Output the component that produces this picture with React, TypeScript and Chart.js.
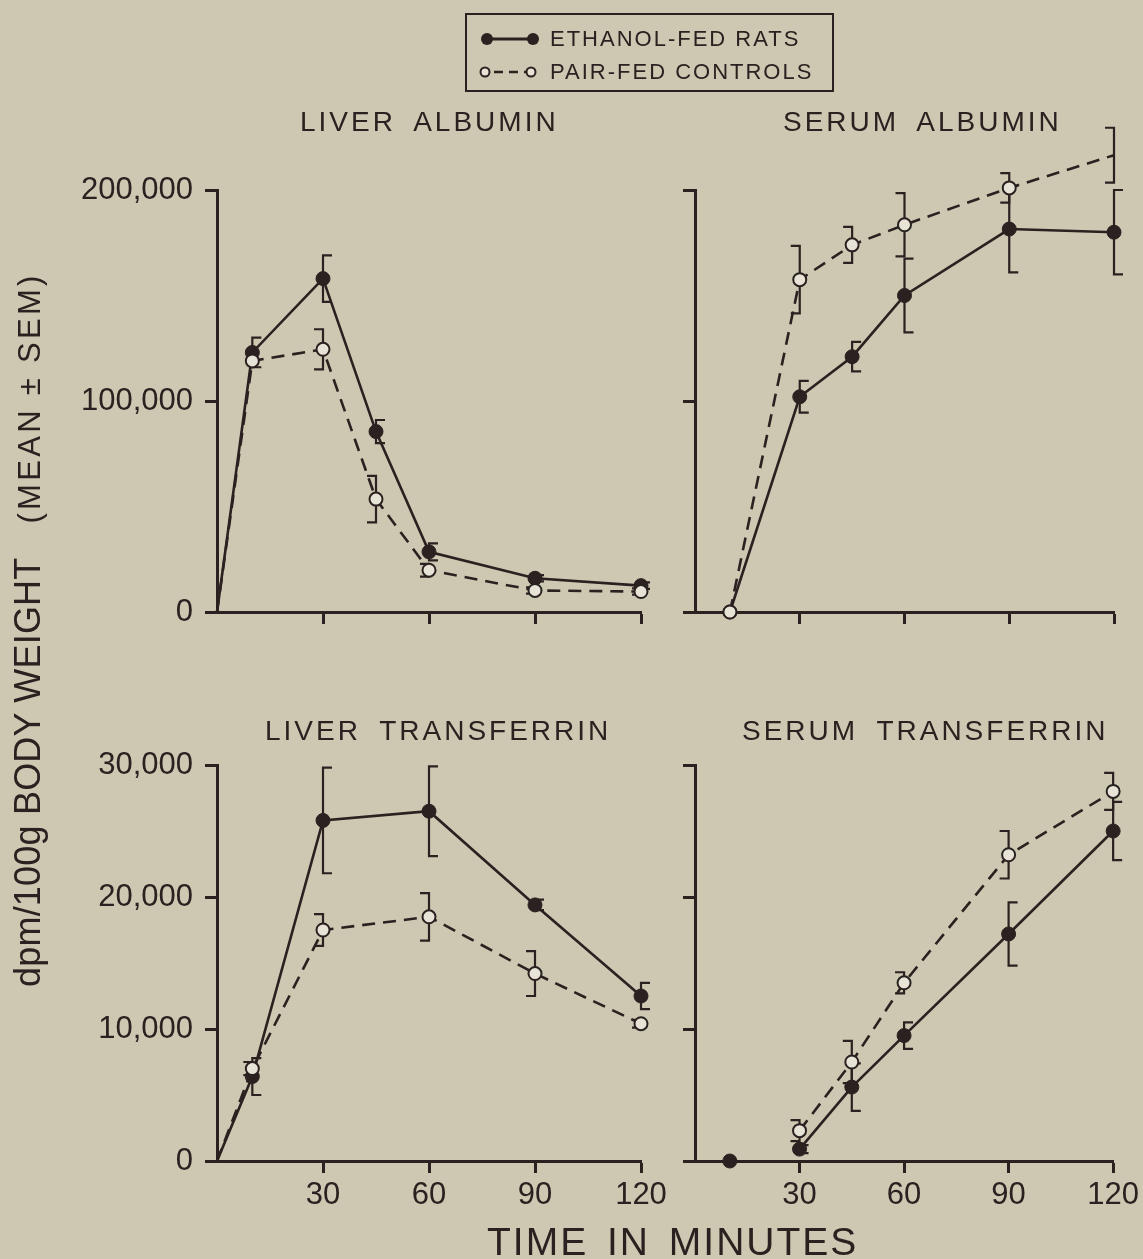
import React, { useEffect, useRef } from 'react';
import { Chart, registerables } from 'chart.js';

Chart.register(...registerables);

// ---------- data (dpm / 100 g body weight, mean and SEM) ----------
const liverAlbuminTimes = [0, 10, 30, 45, 60, 90, 120];
const liverAlbuminEthanol = [0, 123000, 158000, 85500, 28500, 16000, 12500];
const liverAlbuminEthanolSem = [0, 7000, 11000, 5500, 4000, 1500, 1500];
const liverAlbuminPairFed = [0, 119000, 124500, 53500, 19800, 10200, 9700];
const liverAlbuminPairFedSem = [0, 0, 9500, 11000, 3000, 1500, 1500];

const serumAlbuminTimes = [10, 30, 45, 60, 90, 120];
const serumAlbuminEthanol = [0, 102000, 121000, 150000, 181500, 180000];
const serumAlbuminEthanolSem = [0, 7500, 7000, 17500, 20500, 20000];
const serumAlbuminPairFed = [0, 157500, 174000, 183500, 201000, 216500];
const serumAlbuminPairFedSem = [0, 16000, 8500, 15000, 7000, 13000];

const liverTransferrinTimes = [0, 10, 30, 60, 90, 120];
const liverTransferrinEthanol = [0, 6400, 25800, 26500, 19400, 12500];
const liverTransferrinEthanolSem = [0, 1400, 4000, 3400, 400, 1000];
const liverTransferrinPairFed = [0, 7000, 17500, 18500, 14200, 10400];
const liverTransferrinPairFedSem = [0, 500, 1200, 1800, 1700, 300];

const serumTransferrinEthanolTimes = [10, 30, 45, 60, 90, 120];
const serumTransferrinEthanol = [0, 900, 5600, 9500, 17200, 25000];
const serumTransferrinEthanolSem = [0, 300, 1800, 1000, 2400, 2200];
const serumTransferrinPairFedTimes = [30, 45, 60, 90, 120];
const serumTransferrinPairFed = [2300, 7500, 13500, 23200, 28000];
const serumTransferrinPairFedSem = [800, 1600, 800, 1800, 1400];

const xTicks = [30, 60, 90, 120];
const albuminYTicks = [0, 100000, 200000];
const transferrinYTicks = [0, 10000, 20000, 30000];

const legendLabels = ['ETHANOL-FED RATS', 'PAIR-FED CONTROLS'];
const panelTitles = ['LIVER ALBUMIN', 'SERUM ALBUMIN', 'LIVER TRANSFERRIN', 'SERUM TRANSFERRIN'];
const yAxisTitleMain = 'dpm/100g BODY WEIGHT';
const yAxisTitleSub = '(MEAN \u00b1 SEM)';
const xAxisTitle = 'TIME IN MINUTES';

// ---------- styles ----------
const INK = '#2a2120';
const PAPER = '#cdc8b1';
const OPEN_FILL = '#e7e4d7';
const FONT = "'Liberation Sans', Arial, sans-serif";

const semBracketPlugin = {
  id: 'semBrackets',
  beforeDatasetsDraw(chart: any) {
    const ctx = chart.ctx;
    const yScale = chart.scales.y;
    chart.data.datasets.forEach((ds: any, i: number) => {
      const meta = chart.getDatasetMeta(i);
      const sem: number[] = ds.sem || [];
      ctx.save();
      ctx.strokeStyle = INK;
      ctx.lineWidth = 2.2;
      ctx.setLineDash([]);
      meta.data.forEach((el: any, j: number) => {
        const s = sem[j];
        if (!s) return;
        const v = ds.data[j].y;
        const x = el.x;
        const yHi = yScale.getPixelForValue(v + s);
        const yLo = yScale.getPixelForValue(Math.max(v - s, 0));
        const side = ds.bracketSide;
        ctx.beginPath();
        ctx.moveTo(x + side * 9, yHi);
        ctx.lineTo(x, yHi);
        ctx.lineTo(x, yLo);
        ctx.lineTo(x + side * 9, yLo);
        ctx.stroke();
      });
      ctx.restore();
    });
  },
};

type SeriesSpec = { times: number[]; values: number[]; sem: number[]; detachFirst?: boolean };
type PanelSpec = {
  box: { x: number; y: number; w: number; h: number };
  area: { l: number; t: number; r: number; b: number };
  ethanol: SeriesSpec;
  pairFed: SeriesSpec;
  yTicks: number[];
  showXLabels: boolean;
  showYLabels: boolean;
};

function makeDataset(s: SeriesSpec, filled: boolean, label: string) {
  return {
    label,
    data: s.times.map((t, i) => ({ x: t, y: s.values[i] })),
    sem: s.sem,
    bracketSide: filled ? 1 : -1,
    borderColor: INK,
    backgroundColor: filled ? INK : OPEN_FILL,
    borderWidth: 2.6,
    borderDash: filled ? [] : [13, 8],
    pointRadius: (c: any) => (c.raw && c.raw.x === 0 ? 0 : filled ? 7 : 6.5),
    pointBackgroundColor: filled ? INK : OPEN_FILL,
    pointBorderColor: INK,
    pointBorderWidth: filled ? 1 : 2,
    tension: 0,
    clip: false,
    segment: s.detachFirst
      ? { borderColor: (c: any) => (c.p0DataIndex === 0 ? 'rgba(0,0,0,0)' : undefined) }
      : undefined,
  };
}

function Panel({ spec }: { spec: PanelSpec }) {
  const ref = useRef<HTMLCanvasElement | null>(null);
  useEffect(() => {
    const { box, area } = spec;
    const yWidth = area.l - box.x;
    const xHeight = box.y + box.h - area.b;
    const grid = {
      display: true,
      drawOnChartArea: false,
      drawTicks: true,
      tickLength: 12,
      tickWidth: 3,
      tickColor: INK,
      color: INK,
    };
    const border = { display: true, color: INK, width: 3 };
    const tickFont = { family: FONT, size: 31 };
    const yMax = spec.yTicks[spec.yTicks.length - 1];
    const chart = new Chart(ref.current as HTMLCanvasElement, {
      type: 'line',
      data: {
        datasets: [
          makeDataset(spec.pairFed, false, legendLabels[1]),
          makeDataset(spec.ethanol, true, legendLabels[0]),
        ] as any,
      },
      options: {
        animation: false,
        responsive: false,
        events: [],
        layout: {
          padding: { left: 0, top: area.t - box.y, right: box.x + box.w - area.r, bottom: 0 },
        },
        plugins: { legend: { display: false }, tooltip: { enabled: false }, title: { display: false } },
        scales: {
          x: {
            type: 'linear',
            min: 0,
            max: 120,
            afterBuildTicks: (s: any) => {
              s.ticks = xTicks.map((v) => ({ value: v }));
            },
            afterFit: (s: any) => {
              s.height = xHeight;
            },
            ticks: {
              display: spec.showXLabels,
              color: INK,
              font: tickFont,
              padding: 4,
              maxRotation: 0,
              autoSkip: false,
            },
            grid,
            border,
          },
          y: {
            type: 'linear',
            min: 0,
            max: yMax,
            afterBuildTicks: (s: any) => {
              s.ticks = spec.yTicks.map((v) => ({ value: v }));
            },
            afterFit: (s: any) => {
              s.width = yWidth;
            },
            ticks: {
              display: spec.showYLabels,
              color: INK,
              font: tickFont,
              padding: 12,
              callback: (v: any) => Number(v).toLocaleString('en-US'),
            },
            grid,
            border,
          },
        },
      } as any,
      plugins: [semBracketPlugin],
    });
    return () => chart.destroy();
  }, [spec]);
  const { box } = spec;
  return (
    <canvas
      ref={ref}
      width={box.w}
      height={box.h}
      style={{ position: 'absolute', left: box.x, top: box.y, width: box.w, height: box.h }}
    />
  );
}

const panels: PanelSpec[] = [
  {
    box: { x: 0, y: 0, w: 672, h: 660 },
    area: { l: 217, t: 190, r: 641, b: 612 },
    ethanol: { times: liverAlbuminTimes, values: liverAlbuminEthanol, sem: liverAlbuminEthanolSem },
    pairFed: { times: liverAlbuminTimes, values: liverAlbuminPairFed, sem: liverAlbuminPairFedSem },
    yTicks: albuminYTicks,
    showXLabels: false,
    showYLabels: true,
  },
  {
    box: { x: 655, y: 0, w: 488, h: 660 },
    area: { l: 695, t: 190, r: 1114, b: 612 },
    ethanol: { times: serumAlbuminTimes, values: serumAlbuminEthanol, sem: serumAlbuminEthanolSem },
    pairFed: { times: serumAlbuminTimes, values: serumAlbuminPairFed, sem: serumAlbuminPairFedSem },
    yTicks: albuminYTicks,
    showXLabels: false,
    showYLabels: false,
  },
  {
    box: { x: 0, y: 660, w: 672, h: 599 },
    area: { l: 217, t: 765, r: 641, b: 1161 },
    ethanol: { times: liverTransferrinTimes, values: liverTransferrinEthanol, sem: liverTransferrinEthanolSem },
    pairFed: { times: liverTransferrinTimes, values: liverTransferrinPairFed, sem: liverTransferrinPairFedSem },
    yTicks: transferrinYTicks,
    showXLabels: true,
    showYLabels: true,
  },
  {
    box: { x: 655, y: 660, w: 488, h: 599 },
    area: { l: 695, t: 765, r: 1114, b: 1161 },
    ethanol: {
      times: serumTransferrinEthanolTimes,
      values: serumTransferrinEthanol,
      sem: serumTransferrinEthanolSem,
      detachFirst: true,
    },
    pairFed: { times: serumTransferrinPairFedTimes, values: serumTransferrinPairFed, sem: serumTransferrinPairFedSem },
    yTicks: transferrinYTicks,
    showXLabels: true,
    showYLabels: false,
  },
];

const titlePos = [
  { x: 300, baseline: 132 },
  { x: 783, baseline: 132 },
  { x: 265, baseline: 741 },
  { x: 742, baseline: 741 },
];

function Text({
  x,
  baseline,
  size,
  spacing,
  wordSpacing,
  children,
}: {
  x: number;
  baseline: number;
  size: number;
  spacing: number;
  wordSpacing?: number;
  children: React.ReactNode;
}) {
  return (
    <div
      style={{
        position: 'absolute',
        left: x,
        top: baseline - size * 0.8465,
        fontSize: size,
        lineHeight: `${size}px`,
        letterSpacing: spacing,
        wordSpacing: wordSpacing || 0,
        whiteSpace: 'nowrap',
      }}
    >
      {children}
    </div>
  );
}

function Legend() {
  return (
    <>
      <svg
        width={1143}
        height={100}
        style={{ position: 'absolute', left: 0, top: 0 }}
      >
        <rect x={466} y={14} width={367} height={77} fill="none" stroke={INK} strokeWidth={2} />
        <line x1={487} y1={39} x2={533} y2={39} stroke={INK} strokeWidth={3} />
        <circle cx={487} cy={39} r={6} fill={INK} />
        <circle cx={533} cy={39} r={6} fill={INK} />
        <line x1={490} y1={72} x2={527} y2={72} stroke={INK} strokeWidth={2.5} strokeDasharray="9 6" strokeDashoffset={-4} />
        <circle cx={485} cy={72} r={4.5} fill={OPEN_FILL} stroke={INK} strokeWidth={2} />
        <circle cx={531} cy={72} r={4.5} fill={OPEN_FILL} stroke={INK} strokeWidth={2} />
      </svg>
      <Text x={550} baseline={47} size={22} spacing={2}>
        {legendLabels[0]}
      </Text>
      <Text x={550} baseline={80} size={22} spacing={2}>
        {legendLabels[1]}
      </Text>
    </>
  );
}

export default function App() {
  return (
    <div
      style={{
        position: 'absolute',
        left: 0,
        top: 0,
        width: 1143,
        height: 1259,
        background: PAPER,
        overflow: 'hidden',
        fontFamily: FONT,
        color: INK,
      }}
    >
      {panels.map((p, i) => (
        <Panel key={i} spec={p} />
      ))}
      <Legend />
      {panelTitles.map((t, i) => (
        <Text key={t} x={titlePos[i].x} baseline={titlePos[i].baseline} size={28} spacing={3} wordSpacing={8}>
          {t}
        </Text>
      ))}
      <Text x={487} baseline={1255} size={39} spacing={2} wordSpacing={6}>
        {xAxisTitle}
      </Text>
      <div
        style={{
          position: 'absolute',
          left: 10,
          top: 987,
          transformOrigin: '0 0',
          transform: 'rotate(-90deg)',
          whiteSpace: 'nowrap',
          lineHeight: '36px',
          height: 36,
        }}
      >
        <span style={{ fontSize: 36, letterSpacing: 0.2 }}>{yAxisTitleMain}</span>
        <span style={{ fontSize: 31, letterSpacing: 3.3, marginLeft: 34 }}>{yAxisTitleSub}</span>
      </div>
    </div>
  );
}
